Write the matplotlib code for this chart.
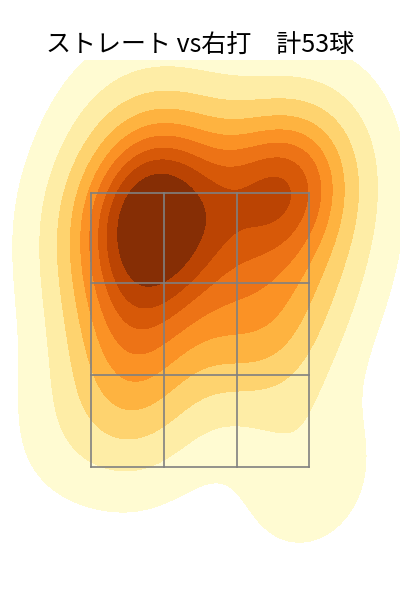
import matplotlib
matplotlib.use("Agg")
import matplotlib.pyplot as plt
import seaborn as sns
import numpy as np

plt.rcParams['font.family'] = ['Noto Sans CJK JP', 'DejaVu Sans']

title = "ストレート vs右打　計53球"

# pitch locations, read as pixel-like positions (x right, y down), 100 px = 1 unit
px = [120,140,160,180,200,125,150,175,205,130,155,185,145,175,165,115,
      272,282,288,278,295,285,280,
      110,160,215,270,325,
      125,150,110,145,125,160,95,
      230,270,215,260,300,250,285,
      335,340,320,
      65,85,80,
      150,295,320,
      120,240]
py = [185,170,180,175,195,215,210,215,230,245,250,250,275,270,160,230,
      185,180,192,198,188,185,190,
      115,105,120,130,125,
      300,310,345,350,380,390,320,
      300,290,340,335,315,365,365,
      240,175,280,
      430,260,200,
      440,485,465,
      420,250]
pitch_x = [v / 100 for v in px]
pitch_z = [(600 - v) / 100 for v in py]

zone_x = [0.91, 1.64, 2.37, 3.09]
zone_z = [1.33, 2.25, 3.17, 4.07]

fig = plt.figure(figsize=(4, 6), dpi=100)
ax = fig.add_axes([0, 0, 1, 0.9])
sns.kdeplot(x=pitch_x, y=pitch_z, fill=True, cmap="YlOrBr", bw_adjust=1.15, ax=ax)

for xv in zone_x:
    ax.plot([xv, xv], [zone_z[0], zone_z[-1]], color="gray", lw=1.2)
for zv in zone_z:
    ax.plot([zone_x[0], zone_x[-1]], [zv, zv], color="gray", lw=1.2)

ax.set_xlim(0, 4)
ax.set_ylim(0, 5.4)
ax.axis("off")
ax.set_title(title, fontsize=18, family=['Noto Sans CJK JP', 'DejaVu Sans'])
fig.savefig("out.png", dpi=100)
